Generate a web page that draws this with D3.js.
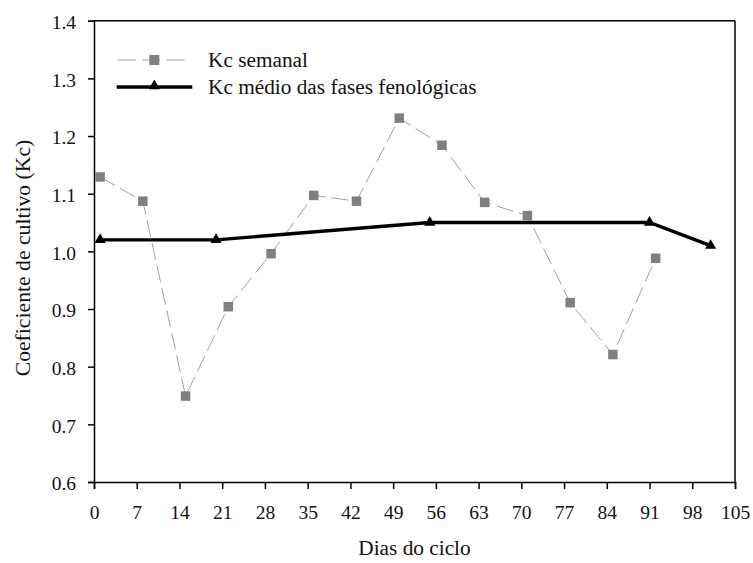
<!DOCTYPE html>
<html><head><meta charset="utf-8">
<script src="https://cdn.jsdelivr.net/npm/d3@7"></script>
<style>body{margin:0;background:#fff}</style>
</head><body><svg id="c" width="753" height="563"></svg>
<script>
const semanalDays = [1, 8, 15, 22, 29, 36, 43, 50, 57, 64, 71, 78, 85, 92];
const semanalKc = [1.129, 1.087, 0.749, 0.904, 0.996, 1.097, 1.087, 1.231, 1.184, 1.085, 1.062, 0.911, 0.821, 0.988];
const medioDays = [1, 20, 55, 91, 101];
const medioKc = [1.02, 1.02, 1.05, 1.05, 1.01];
const xTicks = [0, 7, 14, 21, 28, 35, 42, 49, 56, 63, 70, 77, 84, 91, 98, 105];
const yTicks = [0.6, 0.7, 0.8, 0.9, 1.0, 1.1, 1.2, 1.3, 1.4];
const seriesNames = ["Kc semanal", "Kc médio das fases fenológicas"];
const xTitle = "Dias do ciclo";
const yTitle = "Coeficiente de cultivo (Kc)";

const FONT = '"Liberation Serif", "Times New Roman", "DejaVu Serif", serif';
const TICKFS = "19.5px", LABFS = "21.3px";
const svg = d3.select("#c").attr("font-family", FONT);
const L = 94, R = 735, T = 20.7, B = 482;
const x = d3.scaleLinear().domain([0, 105]).range([L, R]);
const y = d3.scaleLinear().domain([0.6, 1.4]).range([B, T]);

svg.append("line").attr("x1", L).attr("x2", R).attr("y1", T).attr("y2", T).attr("stroke", "#000").attr("stroke-width", 1.5);
svg.append("line").attr("x1", R).attr("x2", R).attr("y1", T).attr("y2", B).attr("stroke", "#000").attr("stroke-width", 1.5);

const xAxis = svg.append("g").attr("transform", `translate(0,${B})`)
  .call(d3.axisBottom(x).tickValues(xTicks).tickSize(7).tickPadding(16).tickFormat(d3.format("d")));
const yAxis = svg.append("g").attr("transform", `translate(${L},0)`)
  .call(d3.axisLeft(y).tickValues(yTicks).tickSize(6).tickPadding(12).tickFormat(d3.format(".1f")));
[xAxis, yAxis].forEach(g => {
  g.attr("font-family", FONT).attr("font-size", TICKFS);
  g.select(".domain").attr("stroke", "#000").attr("stroke-width", 1.5);
  g.selectAll(".tick line").attr("stroke", "#000").attr("stroke-width", 1.5);
  g.selectAll(".tick text").attr("fill", "#111");
});
yAxis.selectAll(".tick text").attr("dy", "0.4em");

const semanal = semanalDays.map((d, i) => ({x: d, y: semanalKc[i]}));
const medio = medioDays.map((d, i) => ({x: d, y: medioKc[i]}));
const line = d3.line().x(d => x(d.x)).y(d => y(d.y));

svg.append("path").datum(semanal).attr("d", line).attr("fill", "none")
  .attr("stroke", "#a0a0a0").attr("stroke-width", 1).attr("stroke-dasharray", "17,6");
svg.append("path").datum(medio).attr("d", line).attr("fill", "none")
  .attr("stroke", "#000").attr("stroke-width", 3.3);

const sq = 9.5;
svg.selectAll("rect.sq").data(semanal).enter().append("rect").attr("class", "sq")
  .attr("x", d => x(d.x) - sq / 2).attr("y", d => y(d.y) - sq / 2)
  .attr("width", sq).attr("height", sq).attr("fill", "#7f7f7f");
const tri = d3.symbol().type(d3.symbolTriangle).size(54);
svg.selectAll("path.tri").data(medio).enter().append("path").attr("class", "tri")
  .attr("d", tri).attr("transform", d => `translate(${x(d.x)},${y(d.y)})`).attr("fill", "#000");

const lg = svg.append("g").attr("font-size", LABFS).attr("fill", "#111");
lg.append("line").attr("x1", 117.7).attr("x2", 184.5).attr("y1", 60).attr("y2", 60)
  .attr("stroke", "#a0a0a0").attr("stroke-width", 1).attr("stroke-dasharray", "18,6.5");
lg.append("rect").attr("x", 154.3 - 5).attr("y", 60 - 5).attr("width", 10).attr("height", 10).attr("fill", "#7f7f7f");
lg.append("text").attr("x", 208).attr("y", 67).text(seriesNames[0]);
lg.append("line").attr("x1", 116.7).attr("x2", 192.3).attr("y1", 87).attr("y2", 87)
  .attr("stroke", "#000").attr("stroke-width", 3.5);
lg.append("path").attr("d", tri).attr("transform", "translate(154.3,86)").attr("fill", "#000");
lg.append("text").attr("x", 208).attr("y", 94).text(seriesNames[1]);

svg.append("text").attr("x", (L + R) / 2).attr("y", 555).attr("text-anchor", "middle")
  .attr("font-size", LABFS).attr("fill", "#111").text(xTitle);
svg.append("text").attr("transform", `translate(30,258) rotate(-90)`).attr("text-anchor", "middle")
  .attr("font-size", "21.7px").attr("fill", "#111").text(yTitle);
</script></body></html>
